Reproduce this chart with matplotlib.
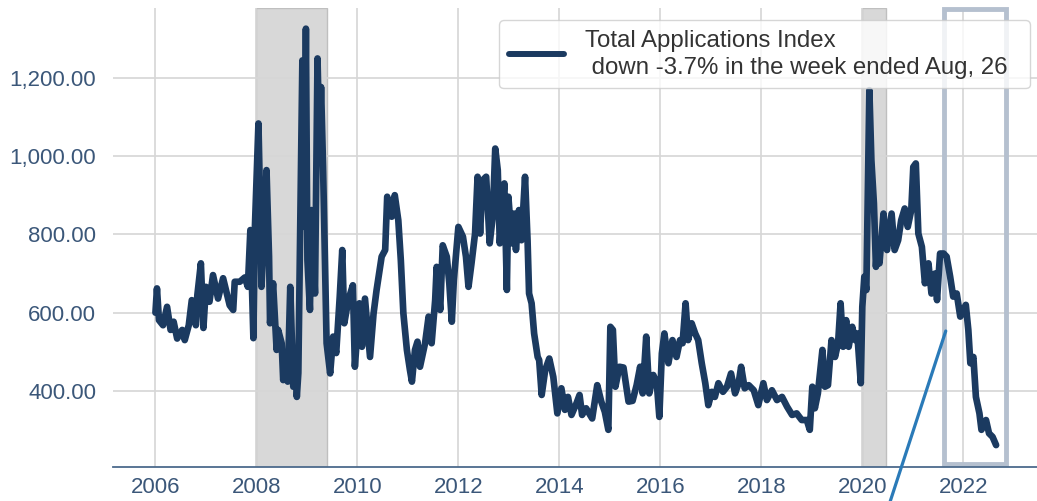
import matplotlib
matplotlib.use("Agg")
import matplotlib.pyplot as plt
from matplotlib.patches import Rectangle

plt.rcParams['font.family'] = ['Liberation Sans', 'DejaVu Sans']

# weekly index (decimal year, value)
years = [
    2006.00, 2006.03, 2006.07, 2006.15, 2006.23, 2006.30, 2006.36, 2006.43, 2006.53, 2006.58,
    2006.66, 2006.72, 2006.80, 2006.83, 2006.90, 2006.95, 2007.00, 2007.07, 2007.14, 2007.24,
    2007.34, 2007.47, 2007.54, 2007.57, 2007.67, 2007.77, 2007.83, 2007.88, 2007.94, 2007.97,
    2008.04, 2008.07, 2008.10, 2008.15, 2008.20, 2008.25, 2008.27, 2008.33, 2008.40, 2008.43,
    2008.50, 2008.53, 2008.60, 2008.62, 2008.67, 2008.73, 2008.77, 2008.80, 2008.83, 2008.87,
    2008.91, 2008.95, 2008.98, 2009.01, 2009.06, 2009.09, 2009.16, 2009.21, 2009.25, 2009.28,
    2009.32, 2009.39, 2009.46, 2009.52, 2009.58, 2009.65, 2009.70, 2009.74, 2009.82, 2009.91,
    2009.95, 2010.04, 2010.09, 2010.15, 2010.25, 2010.32, 2010.38, 2010.48, 2010.55, 2010.59,
    2010.68, 2010.74, 2010.81, 2010.86, 2010.91, 2010.98, 2011.04, 2011.08, 2011.14, 2011.19,
    2011.24, 2011.34, 2011.41, 2011.47, 2011.54, 2011.57, 2011.64, 2011.69, 2011.77, 2011.82,
    2011.87, 2011.91, 2012.00, 2012.09, 2012.15, 2012.20, 2012.26, 2012.33, 2012.38, 2012.43,
    2012.48, 2012.55, 2012.62, 2012.68, 2012.73, 2012.78, 2012.82, 2012.86, 2012.91, 2012.96,
    2012.99, 2013.06, 2013.10, 2013.14, 2013.20, 2013.25, 2013.32, 2013.37, 2013.40, 2013.45,
    2013.50, 2013.57, 2013.60, 2013.65, 2013.72, 2013.80, 2013.88, 2013.96, 2014.04, 2014.11,
    2014.17, 2014.24, 2014.34, 2014.40, 2014.45, 2014.53, 2014.65, 2014.75, 2014.83, 2014.90,
    2014.97, 2015.01, 2015.06, 2015.11, 2015.19, 2015.27, 2015.37, 2015.45, 2015.53, 2015.60,
    2015.65, 2015.72, 2015.78, 2015.86, 2015.93, 2015.98, 2016.03, 2016.08, 2016.16, 2016.24,
    2016.32, 2016.39, 2016.44, 2016.50, 2016.55, 2016.62, 2016.69, 2016.75, 2016.82, 2016.89,
    2016.95, 2017.02, 2017.08, 2017.15, 2017.24, 2017.32, 2017.40, 2017.48, 2017.55, 2017.60,
    2017.67, 2017.75, 2017.85, 2017.94, 2018.04, 2018.11, 2018.21, 2018.31, 2018.41, 2018.51,
    2018.61, 2018.70, 2018.80, 2018.90, 2018.96, 2019.01, 2019.06, 2019.12, 2019.21, 2019.26,
    2019.32, 2019.39, 2019.46, 2019.52, 2019.57, 2019.62, 2019.68, 2019.73, 2019.80, 2019.86,
    2019.90, 2019.97, 2020.00, 2020.04, 2020.08, 2020.14, 2020.18, 2020.23, 2020.27, 2020.30,
    2020.34, 2020.42, 2020.49, 2020.58, 2020.64, 2020.71, 2020.77, 2020.84, 2020.90, 2020.97,
    2021.01, 2021.06, 2021.11, 2021.18, 2021.24, 2021.31, 2021.37, 2021.44, 2021.48, 2021.54,
    2021.61, 2021.67, 2021.74, 2021.80, 2021.87, 2021.94, 2022.00, 2022.05, 2022.10, 2022.14,
    2022.20, 2022.25, 2022.32, 2022.36, 2022.45, 2022.51, 2022.58, 2022.65,
]
index = [
    600, 662, 581, 568, 615, 556, 577, 534, 556, 530,
    568, 632, 568, 645, 726, 561, 666, 628, 696, 636,
    688, 619, 607, 679, 679, 690, 666, 811, 535, 819,
    1083, 900, 666, 800, 964, 743, 573, 675, 505, 556,
    522, 428, 487, 424, 666, 411, 487, 385, 446, 853,
    1244, 819, 1325, 734, 607, 862, 649, 1249, 1015, 1176,
    972, 522, 445, 539, 497, 641, 760, 573, 632, 670,
    462, 624, 513, 636, 487, 598, 658, 743, 760, 896,
    845, 900, 836, 734, 599, 505, 454, 424, 505, 526,
    462, 522, 590, 522, 632, 717, 607, 772, 743, 675,
    577, 683, 819, 794, 743, 666, 726, 802, 947, 802,
    938, 947, 777, 845, 1019, 964, 777, 853, 930, 658,
    896, 777, 853, 760, 862, 785, 947, 785, 649, 624,
    547, 487, 479, 390, 454, 483, 436, 343, 407, 352,
    385, 339, 369, 390, 339, 356, 330, 415, 373, 347,
    301, 564, 556, 411, 462, 460, 373, 375, 415, 462,
    394, 539, 394, 441, 420, 334, 496, 547, 471, 530,
    487, 530, 522, 624, 530, 573, 547, 530, 471, 420,
    364, 398, 385, 420, 398, 411, 445, 394, 420, 462,
    407, 415, 402, 364, 420, 377, 402, 377, 385, 360,
    339, 343, 326, 326, 301, 411, 356, 394, 505, 411,
    415, 530, 487, 522, 624, 513, 581, 513, 564, 530,
    547, 420, 615, 692, 658, 1168, 989, 879, 717, 777,
    726, 853, 760, 853, 760, 785, 836, 866, 819, 862,
    972, 981, 802, 768, 675, 726, 649, 700, 632, 751,
    751, 743, 692, 641, 649, 590, 607, 620, 556, 471,
    487, 385, 343, 301, 326, 292, 283, 262,
]

recessions = [(2008.0, 2009.4), (2020.0, 2020.47)]
x_ticks = [2006, 2008, 2010, 2012, 2014, 2016, 2018, 2020, 2022]
y_ticks = [400, 600, 800, 1000, 1200]
label = "Total Applications Index\n down -3.7% in the week ended Aug, 26  "

navy = "#1b3a60"
tick_col = "#3b5779"

fig = plt.figure(figsize=(10.37, 5.01), dpi=100)
ax = fig.add_axes([0.109, 0.067, 0.891, 0.918])
ax.set_axisbelow(True)

for a, b in recessions:
    ax.axvspan(a, b, facecolor="#d8d8d8", edgecolor="#bfbfbf", lw=1, zorder=0)

ax.plot(years, index, color=navy, lw=4.8, solid_joinstyle="round",
        solid_capstyle="round", label=label, zorder=3)

# highlight box around the latest stretch
box = Rectangle((2021.62, 213), 1.22, 1162, fill=False, ec="#b5c0cf", lw=3.5,
                zorder=2, clip_on=False)
ax.add_patch(box)

ax.annotate("", xy=(2021.67, 560), xytext=(2020.43, 70),
            arrowprops=dict(arrowstyle="-", color="#2a7ab8", lw=2.3),
            annotation_clip=False, zorder=4)

ax.set_xlim(2005.16, 2023.46)
ax.set_ylim(205, 1379)
ax.set_xticks(x_ticks)
ax.set_yticks(y_ticks)
ax.set_yticklabels([f"{v:,.2f}" for v in y_ticks])
ax.tick_params(axis="both", length=0, labelsize=16, colors=tick_col)
ax.tick_params(axis="y", pad=12)
ax.tick_params(axis="x", pad=7)
ax.grid(True, color="#d6d6d6", lw=1.2)

for s in ["top", "right", "left"]:
    ax.spines[s].set_visible(False)
ax.spines["bottom"].set_color("#4c6a8c")
ax.spines["bottom"].set_linewidth(1.3)

leg = ax.legend(loc="upper right", bbox_to_anchor=(1030 / 1037, 1 - 20 / 501),
                bbox_transform=fig.transFigure, borderaxespad=0, fontsize=17.3,
                handlelength=2.3, handletextpad=0.85, borderpad=0.4,
                framealpha=0.8, edgecolor="#cccccc", fancybox=True)
for t in leg.get_texts():
    t.set_color("#333333")
    t.set_linespacing(1.3)
for h in leg.get_lines():
    h.set_linewidth(4.3)

fig.savefig("out.png", dpi=100)
